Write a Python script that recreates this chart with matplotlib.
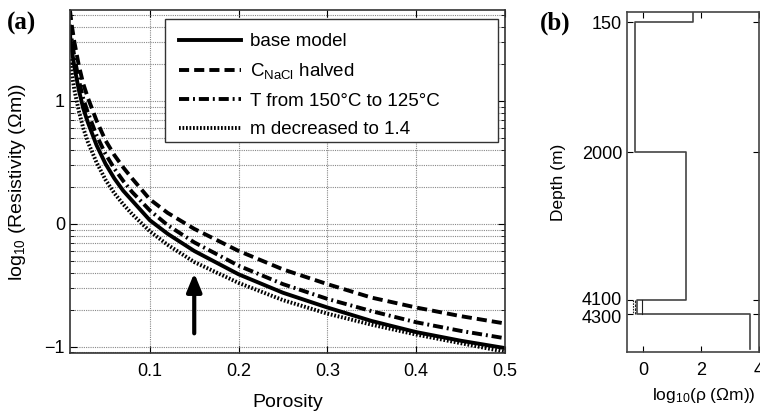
import numpy as np
import matplotlib
matplotlib.use("Agg")
import matplotlib.pyplot as plt
import matplotlib.transforms as mtransforms
from matplotlib.patches import Rectangle
from matplotlib.ticker import FixedLocator, FuncFormatter, LogLocator, NullFormatter

plt.rcParams['font.family'] = ['Liberation Sans', 'DejaVu Sans']
plt.rcParams['mathtext.fontset'] = 'custom'
plt.rcParams['mathtext.rm'] = 'Liberation Sans'
plt.rcParams['mathtext.it'] = 'Liberation Sans:italic'
plt.rcParams['axes.unicode_minus'] = True

# ---------------- data: panel (a) ----------------
porosity = [0.01, 0.012, 0.015, 0.02, 0.025, 0.03, 0.04, 0.05, 0.06, 0.07, 0.08,
            0.1, 0.12, 0.15, 0.2, 0.25, 0.3, 0.35, 0.4, 0.45, 0.5]
log_rho_base = [1.54, 1.42, 1.28, 1.09, 0.94, 0.83, 0.64, 0.49, 0.37, 0.27, 0.19,
                0.03, -0.08, -0.22, -0.41, -0.56, -0.68, -0.79, -0.88, -0.95, -1.01]
log_rho_nacl = [1.74, 1.62, 1.48, 1.29, 1.14, 1.03, 0.84, 0.68, 0.56, 0.46, 0.37,
                0.20, 0.09, -0.04, -0.22, -0.37, -0.49, -0.60, -0.68, -0.75, -0.81]
log_rho_temp = [1.62, 1.50, 1.36, 1.17, 1.02, 0.91, 0.72, 0.57, 0.45, 0.35, 0.26,
                0.11, -0.01, -0.15, -0.34, -0.49, -0.61, -0.71, -0.80, -0.87, -0.93]
log_rho_m14 = [1.34, 1.23, 1.09, 0.92, 0.78, 0.67, 0.50, 0.36, 0.25, 0.16, 0.08,
               -0.06, -0.17, -0.31, -0.48, -0.62, -0.73, -0.82, -0.90, -0.97, -1.04]
labels_a = ['base model', r'C$_{\mathrm{NaCl}}$ halved',
            'T from 150°C to 125°C', 'm decreased to 1.4']
arrow_porosity = 0.15
arrow_log_from = -0.89
arrow_log_to = -0.40

# ---------------- data: panel (b) ----------------
depth_edges = [0, 150, 2000, 4100, 4300, 4800]
log_rho_layers = [1.72, -0.28, 1.47, -0.20, 3.69]
reservoir_alt = [-0.33, -0.27, -0.05]
depth_ticks = [150, 2000, 4100, 4300]
depth_bottom = 4840

fig = plt.figure(figsize=(7.6, 4.12), dpi=100)

# ================= panel (a) =================
ax = fig.add_axes([0.092, 0.1432, 0.5725, 0.8325])
ax.set_yscale('log')
phi = np.array(porosity)
styles = [
    dict(ls='-'),
    dict(ls=(0, (2.6, 1.3))),
    dict(ls=(0, (2.6, 1.0, 0.5, 1.0))),
    dict(ls=(0, (0.45, 0.45))),
]
series = [log_rho_base, log_rho_nacl, log_rho_temp, log_rho_m14]
for s, st, lab in zip(series, styles, labels_a):
    ax.plot(phi, 10 ** np.array(s), color='black', lw=2.8, label=lab, **st)

ymax = max(max(s) for s in series)
ymin = min(min(s) for s in series)
ax.set_xlim(0.01, 0.5)
ax.set_ylim(10 ** (ymin - 0.01), 10 ** ymax)
ax.set_xticks([0.1, 0.2, 0.3, 0.4, 0.5])
ax.set_xticklabels(['0.1', '0.2', '0.3', '0.4', '0.5'])
ax.yaxis.set_major_locator(FixedLocator([0.1, 1, 10]))


def exp_fmt(v, p):
    e = int(round(np.log10(v)))
    return '%d' % e if e >= 0 else '\u2212%d' % -e


ax.yaxis.set_major_formatter(FuncFormatter(exp_fmt))
ax.yaxis.set_minor_locator(LogLocator(base=10, subs=np.arange(2, 10), numticks=20))
ax.yaxis.set_minor_formatter(NullFormatter())
ax.tick_params(which='both', direction='in', top=True, right=True, labelsize=13, colors='black')
ax.tick_params(which='major', length=5)
ax.tick_params(which='minor', length=3)
ax.tick_params(axis='x', pad=7)
ax.grid(True, which='major', axis='both', color='#888888', ls=(0, (1, 1)), lw=0.8)
ax.grid(True, which='minor', axis='y', color='#888888', ls=(0, (1, 1)), lw=0.8)
for sp in ax.spines.values():
    sp.set_color('#333333')
    sp.set_linewidth(1.2)
ax.set_xlabel('Porosity', fontsize=14, labelpad=10)
ax.set_ylabel('log$_{10}$ (Resistivity (\u03a9m))', fontsize=14, labelpad=12)

ax.annotate('', xy=(arrow_porosity, 10 ** arrow_log_to),
            xytext=(arrow_porosity, 10 ** arrow_log_from),
            arrowprops=dict(arrowstyle='-|>,head_length=1.1,head_width=0.45',
                            color='black', lw=3, shrinkA=0, shrinkB=0))

# legend with a MATLAB-like wide frame
leg_x0, leg_x1, leg_y0, leg_y1 = 0.218, 0.984, 0.615, 0.974
leg = ax.legend(loc='upper left', bbox_to_anchor=(leg_x0, leg_y1), fontsize=13.5,
                handlelength=3.3, handletextpad=0.5, labelspacing=0.6,
                borderaxespad=0, borderpad=0.75, frameon=False)
ax.add_patch(Rectangle((leg_x0, leg_y0), leg_x1 - leg_x0, leg_y1 - leg_y0,
                       transform=ax.transAxes, facecolor='white', edgecolor='#333333',
                       lw=1.0, zorder=4.9))
leg.set_zorder(5)

fig.text(0.009, 0.928, '(a)', fontsize=18, fontweight='bold', family='Liberation Serif')

# ================= panel (b) =================
bx = fig.add_axes([0.825, 0.1456, 0.1737, 0.8254])
xs = []
ys = []
for i, v in enumerate(log_rho_layers):
    xs += [v, v]
    ys += [depth_edges[i], depth_edges[i + 1]]
bx.plot(xs, ys, color='#444444', lw=1.2)
alt_styles = [(0, (1.5, 1)), (0, (2.5, 1)), '-']
for v, st in zip(reservoir_alt, alt_styles):
    bx.plot([v, v], [depth_edges[3], depth_edges[4]], color='#222222', lw=0.8, ls=st)
bx.set_xlim(-0.55, 4)
bx.set_ylim(depth_bottom, 0)
bx.set_xticks([0, 2, 4])
bx.set_yticks(depth_ticks)
bx.set_yticklabels([str(d) for d in depth_ticks])
bx.tick_params(direction='in', top=True, right=True, labelsize=13, length=4, colors='black')
bx.tick_params(axis='x', pad=7)
for sp in bx.spines.values():
    sp.set_color('#444444')
    sp.set_linewidth(1.2)
# nudge the two closely spaced depth labels apart slightly
ylabels = bx.get_yticklabels()
for lbl, dy in zip(ylabels, [0, 0, 2, -2]):
    lbl.set_transform(lbl.get_transform() +
                      mtransforms.ScaledTranslation(0, dy / 100.0, fig.dpi_scale_trans))
bx.set_xlabel('log$_{10}$(\u03c1 (\u03a9m))', fontsize=12.5)
bx.xaxis.set_label_coords((704 - 627) / 132.0, -0.10)
bx.set_ylabel('Depth (m)', fontsize=12.5, labelpad=11)
fig.text(0.711, 0.928, '(b)', fontsize=18, fontweight='bold', family='Liberation Serif')

fig.savefig('out.png', dpi=100)
